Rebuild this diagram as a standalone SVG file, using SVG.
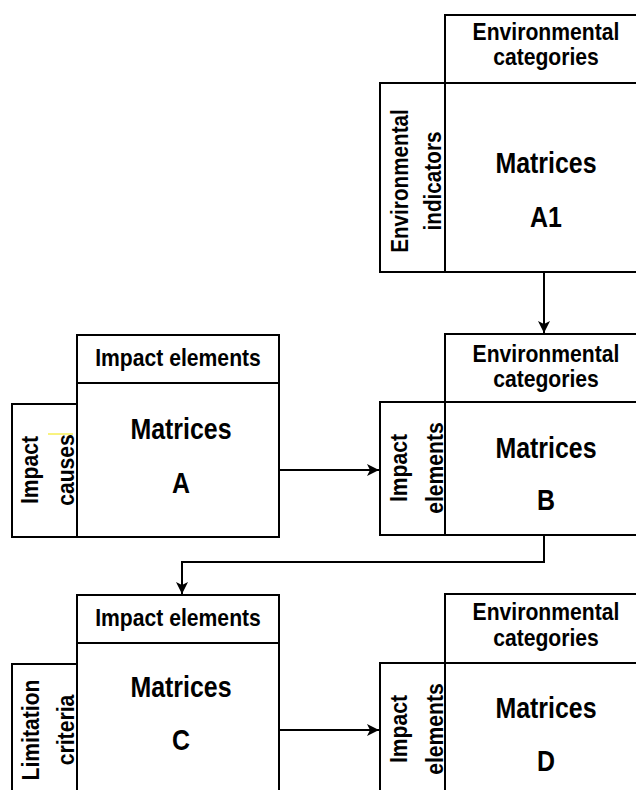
<svg xmlns="http://www.w3.org/2000/svg" width="636" height="790" viewBox="0 0 636 790">
  <style>
    .box { fill: #ffffff; stroke: #000000; stroke-width: 2; }
    .lbl { font-family: "Liberation Sans", Arial, sans-serif; font-weight: bold; font-size: 23px; text-anchor: middle; fill: #000000; }
    .big { font-family: "Liberation Sans", Arial, sans-serif; font-weight: bold; font-size: 29px; text-anchor: middle; fill: #000000; }
    .edge { fill: none; stroke: #000000; stroke-width: 2; }
  </style>
  <defs>
    <marker id="arrow" markerUnits="userSpaceOnUse" markerWidth="14" markerHeight="14" viewBox="0 -7 14 14" refX="12" refY="0" orient="auto">
      <path d="M0,-6 L12,0 L0,6 L3,0 Z" fill="#000000"/>
    </marker>
  </defs>

  <rect width="636" height="790" fill="#ffffff"/>

  <!-- Matrix A1 -->
  <g id="matrix-a1">
    <rect class="box" x="445" y="15" width="202" height="68"/>
    <rect class="box" x="380" y="83" width="65" height="189"/>
    <rect class="box" x="445" y="83" width="202" height="189"/>
    <text class="lbl" transform="translate(546,40) scale(0.92,1)">Environmental</text>
    <text class="lbl" transform="translate(546,65) scale(0.92,1)">categories</text>
    <text class="big" transform="translate(546,173) scale(0.86,1)">Matrices</text>
    <text class="big" transform="translate(546,227) scale(0.86,1)">A1</text>
    <text class="lbl" transform="translate(408,181) rotate(-90) scale(0.9,1)">Environmental</text>
    <text class="lbl" transform="translate(441,181) rotate(-90) scale(0.9,1)">indicators</text>
  </g>

  <!-- Matrix A -->
  <g id="matrix-a">
    <rect class="box" x="77" y="335" width="202" height="48"/>
    <rect class="box" x="12" y="404" width="65" height="133"/>
    <rect class="box" x="77" y="383" width="202" height="154"/>
    <text class="lbl" transform="translate(178,366) scale(0.92,1)">Impact elements</text>
    <text class="big" transform="translate(181,439) scale(0.86,1)">Matrices</text>
    <text class="big" transform="translate(181,493) scale(0.86,1)">A</text>
    <text class="lbl" transform="translate(38,470) rotate(-90) scale(0.92,1)">Impact</text>
    <text class="lbl" transform="translate(74,470) rotate(-90) scale(0.92,1)">causes</text>
    <line x1="48" y1="434" x2="73" y2="434" stroke="#f2e600" stroke-width="1"/>
  </g>

  <!-- Matrix B -->
  <g id="matrix-b">
    <rect class="box" x="445" y="334" width="202" height="68"/>
    <rect class="box" x="380" y="402" width="65" height="133"/>
    <rect class="box" x="445" y="402" width="202" height="133"/>
    <text class="lbl" transform="translate(546,362) scale(0.92,1)">Environmental</text>
    <text class="lbl" transform="translate(546,387) scale(0.92,1)">categories</text>
    <text class="big" transform="translate(546,458) scale(0.86,1)">Matrices</text>
    <text class="big" transform="translate(546,510) scale(0.86,1)">B</text>
    <text class="lbl" transform="translate(407,468) rotate(-90) scale(0.92,1)">Impact</text>
    <text class="lbl" transform="translate(443,468) rotate(-90) scale(0.92,1)">elements</text>
  </g>

  <!-- Matrix C -->
  <g id="matrix-c">
    <rect class="box" x="77" y="595" width="202" height="48"/>
    <rect class="box" x="12" y="664" width="65" height="200"/>
    <rect class="box" x="77" y="643" width="202" height="200"/>
    <text class="lbl" transform="translate(178,626) scale(0.92,1)">Impact elements</text>
    <text class="big" transform="translate(181,697) scale(0.86,1)">Matrices</text>
    <text class="big" transform="translate(181,750) scale(0.86,1)">C</text>
    <text class="lbl" transform="translate(39,730) rotate(-90) scale(0.92,1)">Limitation</text>
    <text class="lbl" transform="translate(74,730) rotate(-90) scale(0.92,1)">criteria</text>
  </g>

  <!-- Matrix D -->
  <g id="matrix-d">
    <rect class="box" x="445" y="594" width="202" height="69"/>
    <rect class="box" x="380" y="663" width="65" height="200"/>
    <rect class="box" x="445" y="663" width="202" height="200"/>
    <text class="lbl" transform="translate(546,620) scale(0.92,1)">Environmental</text>
    <text class="lbl" transform="translate(546,646) scale(0.92,1)">categories</text>
    <text class="big" transform="translate(546,718) scale(0.86,1)">Matrices</text>
    <text class="big" transform="translate(546,771) scale(0.86,1)">D</text>
    <text class="lbl" transform="translate(407,729) rotate(-90) scale(0.92,1)">Impact</text>
    <text class="lbl" transform="translate(443,729) rotate(-90) scale(0.92,1)">elements</text>
  </g>

  <!-- Connectors -->
  <g id="connectors">
    <path class="edge" d="M544,272 V333" marker-end="url(#arrow)"/>
    <path class="edge" d="M279,470 H379" marker-end="url(#arrow)"/>
    <path class="edge" d="M544,535 V562 H182 V594" marker-end="url(#arrow)"/>
    <path class="edge" d="M279,730 H379" marker-end="url(#arrow)"/>
  </g>
</svg>
